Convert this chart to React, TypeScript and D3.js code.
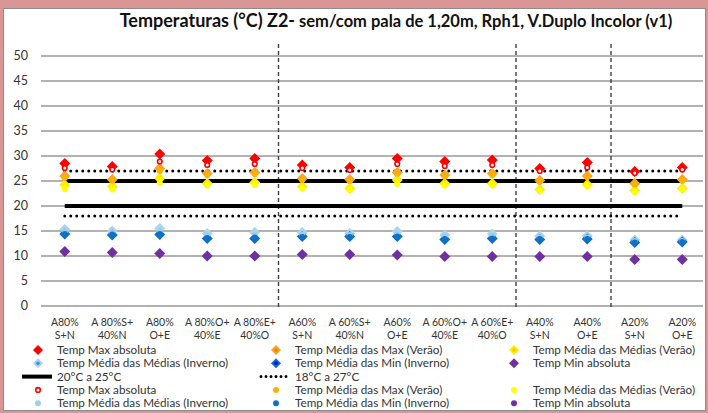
import React from "react";
import * as d3 from "d3";

const categories = [
  ["A80%", "S+N"], ["A 80%S+", "40%N"], ["A80%", "O+E"], ["A 80%O+", "40%E"], ["A 80%E+", "40%O"],
  ["A60%", "S+N"], ["A 60%S+", "40%N"], ["A60%", "O+E"], ["A 60%O+", "40%E"], ["A 60%E+", "40%O"],
  ["A40%", "S+N"], ["A40%", "O+E"], ["A20%", "S+N"], ["A20%", "O+E"],
];
const yTicks = [0, 5, 10, 15, 20, 25, 30, 35, 40, 45, 50];

// diamond series (set 1)
const maxAbs1 = [28.5, 27.9, 30.4, 29.1, 29.5, 28.2, 27.7, 29.5, 28.9, 29.2, 27.5, 28.7, 26.9, 27.7];
const medMaxV1 = [26.0, 25.3, 27.5, 26.5, 26.7, 25.5, 25.3, 26.7, 26.2, 26.5, 25.1, 26.0, 24.5, 25.3];
const medMedV1 = [24.2, 23.9, 25.5, 24.5, 24.7, 23.9, 23.5, 25.2, 24.5, 24.5, 23.3, 24.3, 23.1, 23.5];
const medMedI1 = [15.3, 15.0, 15.5, 14.5, 14.7, 14.7, 14.5, 14.9, 14.2, 14.4, 14.0, 14.0, 13.2, 13.2];
const medMinI1 = [14.4, 14.2, 14.3, 13.5, 13.5, 13.9, 13.9, 13.9, 13.3, 13.5, 13.3, 13.4, 12.7, 12.8];
const minAbs1 = [10.9, 10.7, 10.5, 10.0, 10.0, 10.3, 10.3, 10.2, 9.9, 9.9, 9.9, 9.9, 9.3, 9.3];

// circle series (set 2)
const maxAbs2 = [27.6, 27.3, 28.9, 28.2, 28.4, 27.6, 27.2, 28.4, 28.0, 28.2, 27.0, 27.7, 26.6, 27.3];
const medMaxV2 = [25.6, 25.1, 27.0, 26.2, 26.4, 25.2, 25.0, 26.4, 25.9, 26.2, 24.9, 25.8, 24.3, 25.1];
const medMedV2 = [23.4, 23.3, 24.6, 24.1, 24.2, 23.5, 23.2, 24.4, 24.1, 24.2, 23.0, 24.0, 22.8, 23.3];
const medMedI2 = [14.9, 14.6, 15.0, 14.2, 14.3, 14.3, 14.2, 14.5, 13.9, 14.1, 13.7, 13.7, 13.0, 13.0];
const medMinI2 = [14.4, 14.3, 14.4, 13.6, 13.7, 13.8, 13.8, 13.9, 13.4, 13.5, 13.4, 13.4, 12.7, 12.8];
const minAbs2 = [10.8, 10.7, 10.5, 10.0, 10.0, 10.3, 10.3, 10.2, 9.9, 9.9, 9.9, 9.9, 9.3, 9.3];

const refLow = [20, 25];
const refHigh = [18, 27];
const separators = [5, 10, 12];

const FONT = "Lato, 'Open Sans', sans-serif";

const diamondSeries = [
  { name: "Temp Max absoluta", data: maxAbs1, fill: "#ff0000", dot: null },
  { name: "Temp Média das Max (Verão)", data: medMaxV1, fill: "#f5a623", dot: "#ff7f00" },
  { name: "Temp Média das Médias (Verão)", data: medMedV1, fill: "#ffee00", dot: "#ffc000" },
  { name: "Temp Média das Médias (Inverno)", data: medMedI1, fill: "#a9d3ee", dot: "#3f8fdc" },
  { name: "Temp Média das Min (Inverno)", data: medMinI1, fill: "#0a6fc2", dot: "#0000ff" },
  { name: "Temp Min absoluta", data: minAbs1, fill: "#7030a0", dot: null },
];
const circleSeries = [
  { name: "Temp Max absoluta", data: maxAbs2, fill: "#ffffff", stroke: "#ff0000" },
  { name: "Temp Média das Max (Verão)", data: medMaxV2, fill: "#ffb000", stroke: "#ffb000" },
  { name: "Temp Média das Médias (Verão)", data: medMedV2, fill: "#ffff00", stroke: "#ffff00" },
  { name: "Temp Média das Médias (Inverno)", data: medMedI2, fill: "#9fcfe6", stroke: "#9fcfe6" },
  { name: "Temp Média das Min (Inverno)", data: medMinI2, fill: "#1070c8", stroke: "#1070c8" },
  { name: "Temp Min absoluta", data: minAbs2, fill: "#7030a0", stroke: "#7030a0" },
];

const diamond = (cx: number, cy: number, r: number) =>
  `M${cx},${cy - r}L${cx + r},${cy}L${cx},${cy + r}L${cx - r},${cy}Z`;

export default function App() {
  const W = 708, H = 413;
  const x = d3.scaleBand().domain(categories.map((_, i) => String(i))).range([41, 706]).padding(0);
  const y = d3.scaleLinear().domain([0, 50]).range([306, 56]);
  const cx = (i: number) => (x(String(i)) as number) + x.bandwidth() / 2;
  const firstX = cx(0), lastX = cx(categories.length - 1);

  const legendCols = [38, 276, 514];
  const legendRows = [354, 367.3, 380.6, 393.9, 407.2];
  const LF = 11.7;

  return (
    <svg width={W} height={H} style={{ position: "absolute", left: 0, top: 0 }} fontFamily={FONT}>
      <rect x={0} y={0} width={W} height={H} fill="#d99694" />
      <rect x={3.5} y={8.5} width={702} height={402} fill="#ffffff" stroke="#8c8c8c" strokeWidth={1} />

      <text x={396} y={27} textAnchor="middle" fontWeight="bold" fill="#111" fontSize={16.5}>
        <tspan fontSize={18}>Temperaturas (°C) Z2-</tspan> sem/com pala de 1,20m, Rph1, V.Duplo Incolor (v1)
      </text>

      {yTicks.map((t) => (
        <g key={t}>
          <line x1={41} x2={703} y1={y(t)} y2={y(t)} stroke="#999" strokeWidth={1.6} />
          <text x={28} y={y(t) + 4} textAnchor="end" fontSize={12.5} fill="#333">{t}</text>
        </g>
      ))}

      {separators.map((s) => (
        <line key={s} x1={x(String(s))} x2={x(String(s))} y1={44} y2={309}
          stroke="#404040" strokeWidth={1.4} strokeDasharray="4,3" />
      ))}

      {refLow.map((v) => (
        <line key={"l" + v} x1={firstX} x2={lastX} y1={y(v)} y2={y(v)} stroke="#000" strokeWidth={4} />
      ))}
      {refHigh.map((v) => (
        <line key={"h" + v} x1={firstX} x2={lastX} y1={y(v)} y2={y(v)} stroke="#000" strokeWidth={3}
          strokeDasharray="0,6" strokeLinecap="round" />
      ))}

      {diamondSeries.map((s) => (
        <g key={"d" + s.name}>
          {s.data.map((v, i) => (
            <path key={i} d={diamond(cx(i), y(v), 5.5)} fill={s.fill} />
          ))}
        </g>
      ))}
      {circleSeries.map((s) => (
        <g key={"c" + s.name}>
          {s.data.map((v, i) => (
            <circle key={i} cx={cx(i)} cy={y(v)} r={s.fill === "#ffffff" ? 2.3 : 3}
              fill={s.fill} stroke={s.stroke} strokeWidth={s.fill === "#ffffff" ? 1.6 : 0} />
          ))}
        </g>
      ))}

      {categories.map((c, i) => (
        <g key={i}>
          <text x={cx(i)} y={326} textAnchor="middle" fontSize={10.5} fill="#333">{c[0]}</text>
          <text x={cx(i)} y={339} textAnchor="middle" fontSize={10.5} fill="#333">{c[1]}</text>
        </g>
      ))}

      {diamondSeries.map((s, k) => {
        const col = k % 3, row = Math.floor(k / 3);
        const lx = legendCols[col], ly = legendRows[row];
        return (
          <g key={"ld" + k}>
            <path d={diamond(lx, ly - 4, 5)} fill={s.fill} />
            {s.dot && <circle cx={lx} cy={ly - 4} r={1.8} fill={s.dot} />}
            <text x={lx + 19} y={ly} fontSize={LF} fill="#333">{s.name}</text>
          </g>
        );
      })}
      <line x1={22} x2={52} y1={legendRows[2] - 4} y2={legendRows[2] - 4} stroke="#000" strokeWidth={4} />
      <text x={57} y={legendRows[2]} fontSize={LF} fill="#333">20°C a 25°C</text>
      <line x1={261} x2={287} y1={legendRows[2] - 4} y2={legendRows[2] - 4} stroke="#000" strokeWidth={3}
        strokeDasharray="0,5" strokeLinecap="round" />
      <text x={295} y={legendRows[2]} fontSize={LF} fill="#333">18°C a 27°C</text>
      {circleSeries.map((s, k) => {
        const col = k % 3, row = 3 + Math.floor(k / 3);
        const lx = legendCols[col], ly = legendRows[row];
        return (
          <g key={"lc" + k}>
            <circle cx={lx} cy={ly - 4} r={s.fill === "#ffffff" ? 2.3 : 3} fill={s.fill} stroke={s.stroke}
              strokeWidth={s.fill === "#ffffff" ? 1.6 : 0} />
            <text x={lx + 19} y={ly} fontSize={LF} fill="#333">{s.name}</text>
          </g>
        );
      })}
    </svg>
  );
}
